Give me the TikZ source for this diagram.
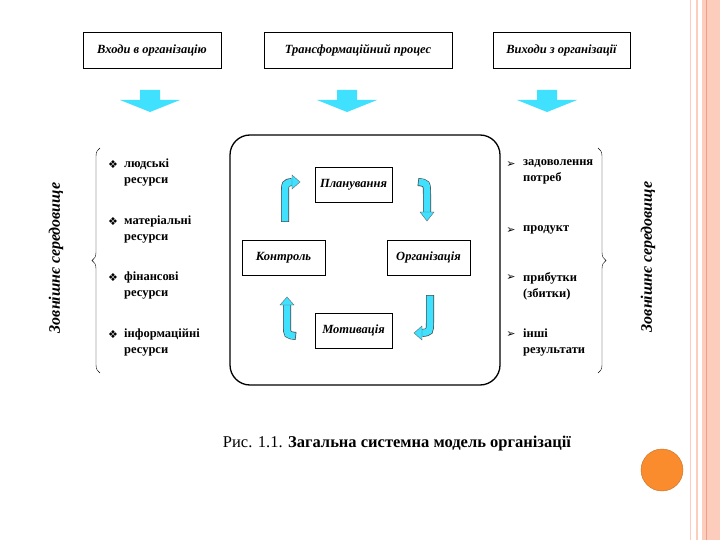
\documentclass[tikz,border=0pt]{standalone}
\usepackage{fontspec}
\setmainfont{Liberation Serif}
\newfontfamily\symf{DejaVu Sans}
\usetikzlibrary{decorations.pathreplacing}
\definecolor{aqua}{rgb}{0.25,0.88,1}
\definecolor{stripe}{rgb}{0.99,0.80,0.74}
\definecolor{stripeline}{rgb}{0.95,0.62,0.52}
\definecolor{dotc}{rgb}{0.98,0.55,0.18}
\begin{document}
\begin{tikzpicture}[x=1pt,y=-1pt,
  box/.style={draw,fill=white,font=\bfseries\itshape\fontsize{12.5}{14}\selectfont,inner sep=0pt},
  item/.style={anchor=north west,align=left,font=\bfseries\fontsize{12.5}{16}\selectfont,inner sep=0pt},
  side/.style={rotate=90,font=\bfseries\itshape\fontsize{16}{17}\selectfont},
  cy/.style={fill=aqua,draw=black!60,line width=0.4pt}]
\useasboundingbox (0,0) rectangle (720,540);
% slide decoration
\fill[white] (0,0) rectangle (720,540);
\fill[stripe] (702,0) rectangle (720,540);
\draw[stripe,line width=1pt] (690.5,0) -- (690.5,540);
\draw[stripe,line width=1.5pt] (697,0) -- (697,540);
\draw[stripeline,line width=1pt] (706,0) -- (706,540);
\node[circle,fill=dotc,draw=dotc!80!black,minimum size=42pt,inner sep=0pt] (dot) at (662,470) {};
% top boxes
\node[box,minimum width=138pt,minimum height=36pt] (in) at (152,50) {Входи в організацію};
\node[box,minimum width=188pt,minimum height=36pt] (tr) at (358,50) {Трансформаційний процес};
\node[box,minimum width=137pt,minimum height=36pt] (out) at (561.5,50) {Виходи з організації};
% block arrows
\foreach \c/\n in {150/a1,347/a2,547/a3}{
  \fill[aqua] (\c-10,90) -- (\c+10,90) -- (\c+10,100) -- (\c+30,100) -- (\c,112) -- (\c-30,100) -- (\c-10,100) -- cycle;
  \coordinate (\n) at (\c,112);
}
% central rounded box
\node[draw,line width=1.3pt,rounded corners=20pt,minimum width=270pt,minimum height=250pt] (core) at (365,260) {};
\node[box,minimum width=77pt,minimum height=35pt] (plan) at (353.5,184.5) {Планування};
\node[box,minimum width=83pt,minimum height=35pt] (ctrl) at (283.5,257.5) {Контроль};
\node[box,minimum width=83pt,minimum height=35pt] (org) at (428.5,257.5) {Організація};
\node[box,minimum width=77pt,minimum height=35pt] (mot) at (353.5,330.5) {Мотивація};
% curved arrows
\coordinate (t1s) at (285,222); \coordinate (t1e) at (292,182);
\draw[black!70,line width=8pt] (t1s) -- (285,195) .. controls (285,183) .. (t1e);
\draw[aqua,line width=6.6pt] (285,221.3) -- (285,195) .. controls (285,183) .. (292.5,182);
\filldraw[cy] (292,175) -- (300,182) -- (292,189) -- cycle;
\coordinate (t2s) at (418,182); \coordinate (t2e) at (427,212);
\draw[black!70,line width=8pt] (t2s) .. controls (427,183) .. (427,195) -- (t2e);
\draw[aqua,line width=6.6pt] (418.7,182) .. controls (427,183) .. (427,195) -- (427,212.5);
\filldraw[cy] (420,212) -- (427,221) -- (434,212) -- cycle;
\coordinate (t3s) at (430,295); \coordinate (t3e) at (422,333);
\draw[black!70,line width=8pt] (t3s) -- (430,322) .. controls (430,332) .. (t3e);
\draw[aqua,line width=6.6pt] (430,295.7) -- (430,322) .. controls (430,332) .. (421.5,333);
\filldraw[cy] (422,326) -- (414,333) -- (422,340) -- cycle;
\coordinate (t4s) at (296,336); \coordinate (t4e) at (287,305);
\draw[black!70,line width=8pt] (t4s) .. controls (287,335) .. (287,325) -- (t4e);
\draw[aqua,line width=6.6pt] (295.3,336) .. controls (287,335) .. (287,325) -- (287,304.5);
\filldraw[cy] (280,305) -- (287,297) -- (294,305) -- cycle;
% braces
\coordinate (lb1) at (100,148); \coordinate (lb2) at (100,373);
\draw[decorate,decoration={brace,amplitude=8pt,mirror}] (lb1) -- (lb2);
\coordinate (rb1) at (598,148); \coordinate (rb2) at (598,373);
\draw[decorate,decoration={brace,amplitude=8pt}] (rb1) -- (rb2);
\node[side] (envl) at (56,258) {Зовнішнє середовище};
\node[side] (envr) at (648,257) {Зовнішнє середовище};
% left items
\foreach \y/\t [count=\i] in {159/{людські\\ресурси},216/{матеріальні\\ресурси},272/{фінансові\\ресурси},329/{інформаційні\\ресурси}}{
  \node[font=\symf\fontsize{11}{11}\selectfont,inner sep=0pt] (lbul\i) at (113,\y+6) {❖};
  \node[item] (lit\i) at (124,\y) {\t};
}
% right items
\foreach \y/\t [count=\i] in {159/{задоволення\\потреб},225/{продукт},272/{прибутки\\(збитки)},329/{інші\\результати}}{
  \node[font=\symf\fontsize{11}{11}\selectfont,inner sep=0pt] (rbul\i) at (511,\y+6) {➢};
  \node[item] (rit\i) at (523,\y) {\t};
}
% caption
\node[font=\fontsize{16.5}{18}\selectfont] (cap) at (397,444) {Рис. 1.1. \textbf{Загальна системна модель організації}};
\end{tikzpicture}
\end{document}
